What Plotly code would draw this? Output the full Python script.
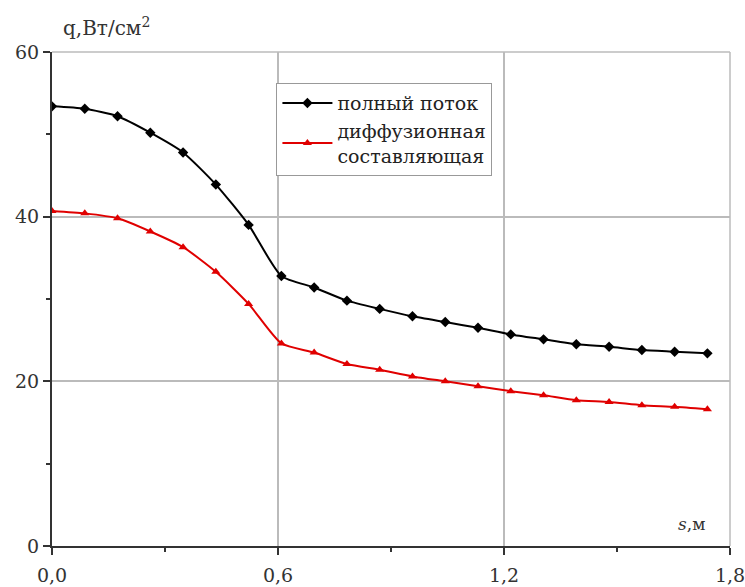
import plotly.graph_objects as go

s_values = [0.0, 0.087, 0.174, 0.261, 0.348, 0.435, 0.522, 0.609, 0.696, 0.783, 0.870,
            0.957, 1.044, 1.131, 1.218, 1.305, 1.392, 1.479, 1.566, 1.653, 1.740]
q_total = [53.4, 53.1, 52.2, 50.2, 47.8, 43.9, 39.0, 32.8, 31.4, 29.8, 28.8,
           27.9, 27.2, 26.5, 25.7, 25.1, 24.5, 24.2, 23.8, 23.6, 23.4]
q_diffusion = [40.7, 40.4, 39.8, 38.2, 36.3, 33.3, 29.4, 24.6, 23.5, 22.1, 21.4,
               20.6, 20.0, 19.4, 18.8, 18.3, 17.7, 17.5, 17.1, 16.9, 16.6]

name_total = "полный поток"
name_diff = "диффузионная<br>составляющая"
x_ticks = [0.0, 0.6, 1.2, 1.8]
x_ticktext = ["0,0", "0,6", "1,2", "1,8"]
y_ticks = [0, 20, 40, 60]

FONT = "DejaVu Serif"

fig = go.Figure()
fig.add_trace(go.Scatter(
    x=s_values, y=q_total, name=name_total, mode="lines+markers",
    line=dict(color="black", width=2, shape="spline", smoothing=0.6),
    marker=dict(symbol="diamond", size=8, color="black"),
))
fig.add_trace(go.Scatter(
    x=s_values, y=q_diffusion, name=name_diff, mode="lines+markers",
    line=dict(color="#e00000", width=2, shape="spline", smoothing=0.6),
    marker=dict(symbol="triangle-up", size=8, color="#e00000"),
))

fig.update_layout(
    width=745, height=587,
    margin=dict(l=52, r=15, t=52, b=41, autoexpand=False),
    paper_bgcolor="white", plot_bgcolor="white",
    font=dict(family=FONT, size=19, color="#333333"),
    showlegend=True,
    legend=dict(
        x=0.331, y=0.937, xanchor="left", yanchor="top",
        bgcolor="white", bordercolor="#999999", borderwidth=1,
        font=dict(family=FONT, size=19, color="#222222"),
        tracegroupgap=0, itemwidth=50,
    ),
    xaxis=dict(
        range=[0, 1.8], tickvals=x_ticks, ticktext=x_ticktext, automargin=False,
        ticklabeloverflow="allow", ticklabelstandoff=4,
        showgrid=True, gridcolor="#bbbbbb", gridwidth=1.5,
        showline=True, linecolor="#333333", linewidth=2,
        ticks="outside", ticklen=7, tickwidth=2, tickcolor="#333333",
        minor=dict(dtick=0.3, tick0=0, ticks="outside", ticklen=4, tickwidth=2,
                   tickcolor="#333333", showgrid=False),
        zeroline=False, fixedrange=True,
    ),
    yaxis=dict(
        range=[0, 60], tickvals=y_ticks, automargin=False,
        showgrid=True, gridcolor="#bbbbbb", gridwidth=1.5,
        showline=True, linecolor="#333333", linewidth=2,
        ticks="outside", ticklen=7, tickwidth=2, tickcolor="#333333",
        minor=dict(dtick=10, tick0=0, ticks="outside", ticklen=4, tickwidth=2,
                   tickcolor="#333333", showgrid=False),
        zeroline=False, fixedrange=True,
    ),
    annotations=[
        dict(text="q,Вт/см<sup>2</sup>", xref="paper", yref="paper", x=0.013, y=1.02,
             xanchor="left", yanchor="bottom", showarrow=False,
             font=dict(family=FONT, size=20, color="#333333")),
        dict(text="<i>s</i>,м", xref="paper", yref="paper", x=0.966, y=0.02,
             xanchor="right", yanchor="bottom", showarrow=False,
             font=dict(family=FONT, size=17, color="#333333")),
    ],
)

fig.add_shape(type="line", xref="paper", yref="paper", x0=0, x1=1, y0=1, y1=1,
              line=dict(color="#bbbbbb", width=1.5), layer="below")
fig.add_shape(type="line", xref="paper", yref="paper", x0=1, x1=1, y0=0, y1=1,
              line=dict(color="#bbbbbb", width=1.5), layer="below")

fig.write_html("out.html")
